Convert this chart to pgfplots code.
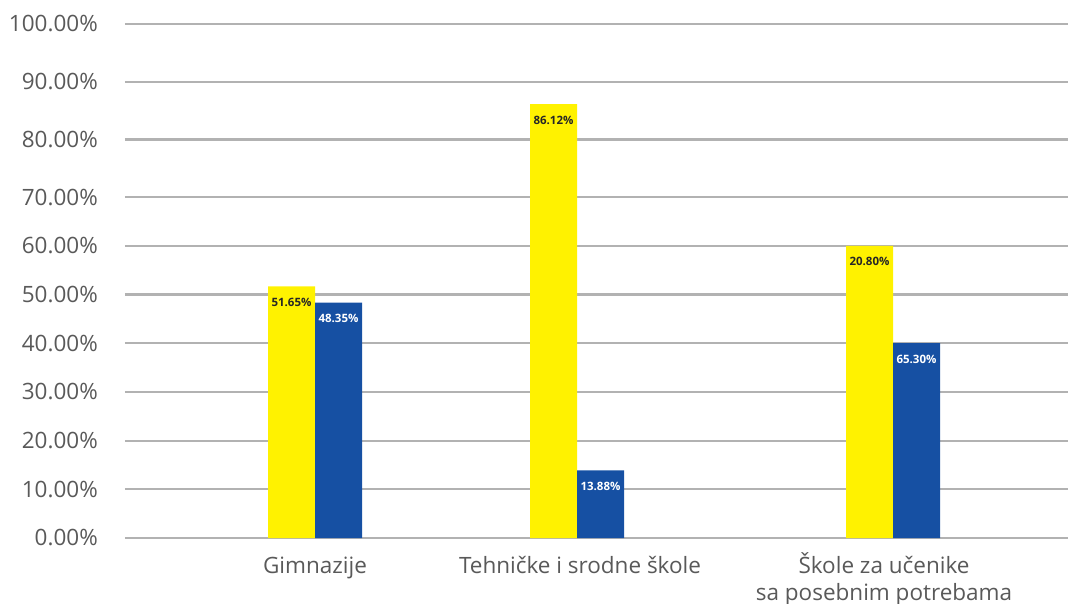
\documentclass[border=0pt]{standalone}
\usepackage{pgfplots}
\pgfplotsset{compat=1.18}
\usepackage{fontspec}
\setmainfont{Open Sans}
\definecolor{barYellow}{RGB}{255,242,0}
\definecolor{barBlue}{RGB}{22,80,163}
\definecolor{gridGray}{RGB}{178,178,178}
\definecolor{txtGray}{RGB}{89,89,89}
\begin{document}
\begin{tikzpicture}
  \begin{axis}[
      scale only axis,
      width=943bp, height=514bp,
      xmin=125, xmax=1068,
      ymin=0, ymax=100,
      % the source chart stretches the band above 70 %
      y coord trafo/.code={\pgfmathparse{ifthenelse(#1<=70,#1,70+(#1-70)*1.185)}},
      axis line style={draw=none},
      major tick length=0pt,
      ytick={0,10,20,30,40,50,60,70,80,90,100},
      yticklabels={0.00\%,10.00\%,20.00\%,30.00\%,40.00\%,50.00\%,60.00\%,70.00\%,80.00\%,90.00\%,100.00\%},
      ymajorgrids,
      grid style={gridGray, line width=2.2bp},
      yticklabel style={anchor=east, inner sep=0pt, xshift=-27bp,
        font=\fontsize{22.5bp}{27bp}\selectfont, text=txtGray},
      xtick={315,580,884},
      xticklabels={Gimnazije, Tehničke i srodne škole,
        {\begin{tabular}[t]{@{}c@{}}Škole za učenike\\sa posebnim potrebama\end{tabular}}},
      xticklabel style={anchor=base, inner sep=0pt, yshift=-35bp,
        font=\fontsize{22.5bp}{27bp}\selectfont, text=txtGray},
      ybar=0pt,
      bar width=47bp,
      clip=false,
      point meta=explicit symbolic,
      nodes near coords,
      every node near coord/.append style={anchor=center, yshift=-16bp,
        font=\fontsize{11.5bp}{13bp}\selectfont\bfseries},
    ]
    \addplot[fill=barYellow, draw=none,
      every node near coord/.append style={text=black!85}]
      coordinates {(315,51.65) [51.65\%] (577,86.12) [86.12\%] (893,60.0) [20.80\%]};
    \addplot[fill=barBlue, draw=none,
      every node near coord/.append style={text=white}]
      coordinates {(315,48.35) [48.35\%] (577,13.88) [13.88\%] (893,40.0) [65.30\%]};
  \end{axis}
  \pgfresetboundingbox
  \path[use as bounding box] (current axis.south west) ++(-125bp,-66bp) rectangle ++(1068bp,604bp);
\end{tikzpicture}
\end{document}
